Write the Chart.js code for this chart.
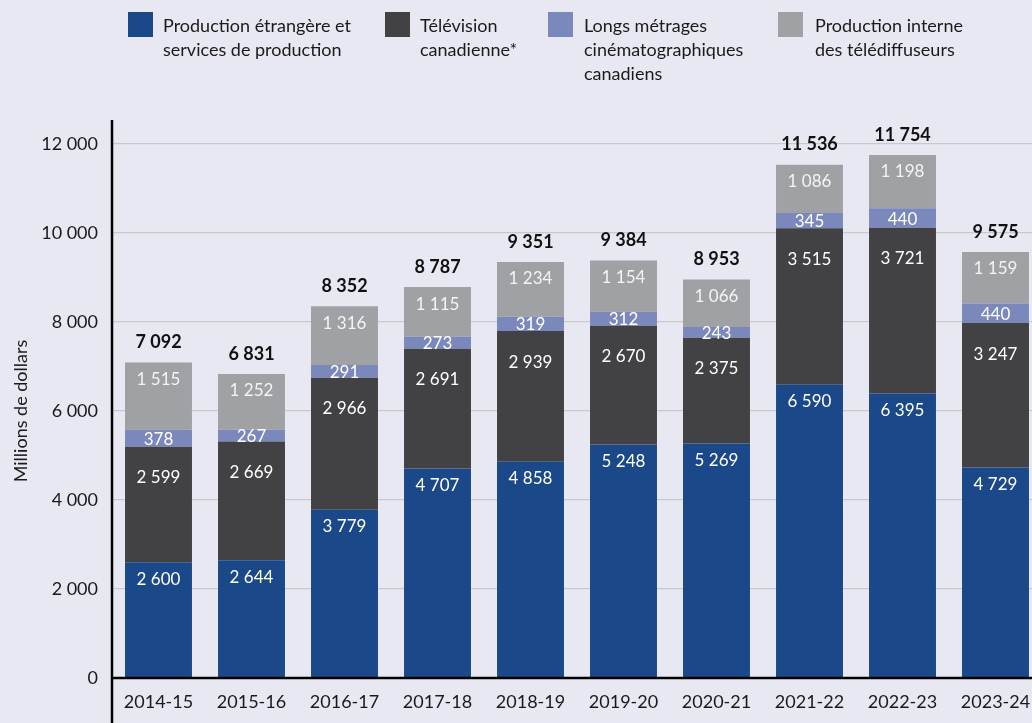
<!doctype html>
<html>

<head>
  <meta charset="UTF-8">
  <script src="https://cdn.jsdelivr.net/npm/chart.js"></script>
  <style>
    html, body { margin: 0; padding: 0; background: #e8e8f2; overflow: hidden; width: 1032px; height: 723px; }
    #wrap { position: relative; width: 1032px; height: 723px; }
    #prodChart { position: absolute; left: 0; top: 0; }
    .leg { position: absolute; font-family: Lato, "Open Sans", sans-serif; font-size: 18px; line-height: 24px; color: #1a1a1a; }
    .box { position: absolute; top: 12px; width: 25px; height: 25px; }
  </style>
</head>

<body>
  <div id="wrap">
    <canvas id="prodChart" width="1060" height="723"></canvas>
    <div class="box" style="left:128px;background:#1a4889"></div>
    <div class="leg" style="left:163px;top:13px">Production étrangère et<br>services de production</div>
    <div class="box" style="left:385px;background:#424244"></div>
    <div class="leg" style="left:420px;top:13px">Télévision<br>canadienne*</div>
    <div class="box" style="left:548px;background:#7b88bb"></div>
    <div class="leg" style="left:584px;top:13px">Longs métrages<br>cinématographiques<br>canadiens</div>
    <div class="box" style="left:778px;background:#a0a1a5"></div>
    <div class="leg" style="left:815px;top:13px">Production interne<br>des télédiffuseurs</div>
  </div>

<script>
  // Volume de production par segment, en millions de dollars
  const years = ['2014-15', '2015-16', '2016-17', '2017-18', '2018-19', '2019-20', '2020-21', '2021-22', '2022-23', '2023-24'];
  const etrangere = [2600, 2644, 3779, 4707, 4858, 5248, 5269, 6590, 6395, 4729];
  const television = [2599, 2669, 2966, 2691, 2939, 2670, 2375, 3515, 3721, 3247];
  const longsMetrages = [378, 267, 291, 273, 319, 312, 243, 345, 440, 440];
  const interne = [1515, 1252, 1316, 1115, 1234, 1154, 1066, 1086, 1198, 1159];
  const totaux = [7092, 6831, 8352, 8787, 9351, 9384, 8953, 11536, 11754, 9575];

  const FONT = 'Lato, "Open Sans", sans-serif';
  const fmtSp = v => String(v).replace(/\B(?=(\d{3})+(?!\d))/g, ' ');

  // valeurs dans les barres + totaux au-dessus
  const labelPlugin = {
    id: 'barLabels',
    afterDatasetsDraw(chart) {
      const ctx = chart.ctx;
      ctx.save();
      ctx.textAlign = 'center';
      ctx.textBaseline = 'middle';
      const offsets = [16, 30, null, 16];
      chart.data.datasets.forEach((ds, i) => {
        const meta = chart.getDatasetMeta(i);
        meta.data.forEach((bar, j) => {
          const y = offsets[i] === null ? (bar.y + bar.base) / 2 : bar.y + offsets[i];
          ctx.fillStyle = i === 3 ? '#f4f4f6' : '#ffffff';
          ctx.font = '17px ' + FONT;
          ctx.fillText(fmtSp(ds.data[j]), bar.x, y + 1);
        });
      });
      const top = chart.getDatasetMeta(3);
      ctx.fillStyle = '#111111';
      ctx.font = 'bold 18px ' + FONT;
      top.data.forEach((bar, j) => {
        ctx.fillText(fmtSp(totaux[j]), bar.x, bar.y - 20);
      });
      ctx.restore();
    }
  };

  // axes noirs : l'axe vertical part au-dessus de 12 000 et descend jusqu'au bas
  const axisPlugin = {
    id: 'axisLines',
    afterDraw(chart) {
      const { ctx, chartArea } = chart;
      ctx.save();
      ctx.strokeStyle = '#000000';
      ctx.lineWidth = 2.5;
      ctx.beginPath();
      ctx.moveTo(chartArea.left, chartArea.top - 24);
      ctx.lineTo(chartArea.left, chart.height);
      ctx.moveTo(chartArea.left, chartArea.bottom);
      ctx.lineTo(chart.width, chartArea.bottom);
      ctx.stroke();
      ctx.restore();
    }
  };

  const ctx = document.getElementById('prodChart').getContext('2d');
  new Chart(ctx, {
    type: 'bar',
    data: {
      labels: years,
      datasets: [
        { label: 'Production étrangère et services de production', data: etrangere, backgroundColor: '#1a4889' },
        { label: 'Télévision canadienne*', data: television, backgroundColor: '#424244' },
        { label: 'Longs métrages cinématographiques canadiens', data: longsMetrages, backgroundColor: '#7b88bb' },
        { label: 'Production interne des télédiffuseurs', data: interne, backgroundColor: '#a0a1a5' }
      ]
    },
    options: {
      responsive: false,
      animation: false,
      layout: { padding: { top: 144, right: 18, left: 0, bottom: 0 } },
      datasets: { bar: { categoryPercentage: 1, barPercentage: 0.72, borderWidth: 0 } },
      plugins: { legend: { display: false }, tooltip: { enabled: false } },
      scales: {
        x: {
          stacked: true,
          grid: { display: false },
          border: { display: false },
          ticks: { color: '#1a1a1a', font: { family: FONT, size: 18 }, padding: 5 },
          afterFit(scale) { scale.height = 45; }
        },
        y: {
          stacked: true,
          min: 0,
          max: 12000,
          grid: { color: '#c8c8cd', lineWidth: 1.2, drawTicks: false },
          border: { display: false },
          ticks: {
            stepSize: 2000,
            color: '#1a1a1a',
            font: { family: FONT, size: 18 },
            padding: 14,
            callback: v => fmtSp(v)
          },
          title: {
            display: true,
            text: 'Millions de dollars',
            color: '#1a1a1a',
            font: { family: FONT, size: 18 },
            padding: { top: 10, bottom: 0 }
          },
          afterFit(scale) { scale.width = 112; }
        }
      }
    },
    plugins: [labelPlugin, axisPlugin]
  });
</script>

</body>

</html>
